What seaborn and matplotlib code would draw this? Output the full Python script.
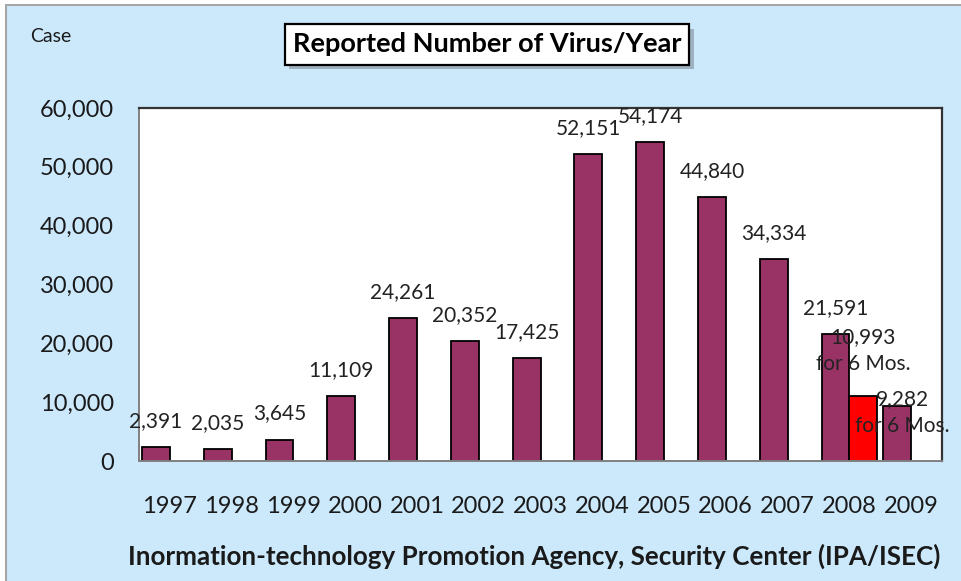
import matplotlib.pyplot as plt
import matplotlib.patheffects as pe
import numpy as np
import pandas as pd
import seaborn as sns
from matplotlib.patches import Rectangle
from matplotlib.transforms import Bbox, TransformedBbox
from matplotlib.ticker import FuncFormatter, MultipleLocator

# Reported virus cases per year (IPA/ISEC)
years = ['1997', '1998', '1999', '2000', '2001', '2002', '2003',
         '2004', '2005', '2006', '2007', '2008', '2009']
year_cases = [2391, 2035, 3645, 11109, 24261, 20352, 17425,
              52151, 54174, 44840, 34334, 21591, 9282]
half_years = ['2008']
half_cases = [10993]
partial_note = 'for 6 Mos.'

MAROON = '#993366'
RED = '#FF0000'
BG = '#CCE9FC'
FONT = 'Lato'


def build_frame():
    full = pd.DataFrame({'year': years, 'cases': year_cases, 'period': 'full'})
    half = pd.DataFrame({'year': half_years, 'cases': half_cases, 'period': 'half'})
    return pd.concat([full, half], ignore_index=True)


def plot_virus_chart(output_plot_path='out.png'):
    df = build_frame()

    sns.set_style('white')
    plt.rcParams['font.family'] = [FONT, 'DejaVu Sans']

    fig = plt.figure(figsize=(9.61, 5.81), dpi=100, facecolor='white')
    # chart area with a thin grey border (cropped on right and bottom)
    fig.patches.append(Rectangle((6 / 961, -0.05), 1.1, 1 - 5 / 581 + 0.05,
                                 transform=fig.transFigure, facecolor=BG,
                                 edgecolor='#A6A6A6', linewidth=1.5, zorder=-10))

    ax = fig.add_axes([139 / 961, 1 - 461 / 581, (942 - 139) / 961, (461 - 108) / 581])
    ax.set_facecolor('white')

    sns.barplot(data=df, x='year', y='cases', hue='period', order=years,
                hue_order=['full', 'half'], palette={'full': MAROON, 'half': RED},
                saturation=1, width=0.9, gap=0, edgecolor='black', linewidth=1.3,
                legend=False, ax=ax)

    ax.set_ylim(0, 60000)
    ax.set_xlim(-0.5, len(years) - 0.5)
    ax.yaxis.set_major_locator(MultipleLocator(10000))
    ax.yaxis.set_major_formatter(FuncFormatter(lambda v, p: f'{v:,.0f}'))
    ax.tick_params(axis='y', direction='out', length=6, width=1.2, color='#808080',
                   pad=12, labelsize=17, labelcolor='#1a1a1a')

    # ticks between categories, year labels in the middle
    ax.set_xticks(np.arange(len(years) + 1) - 0.5)
    ax.set_xticklabels([])
    ax.set_xticks(np.arange(len(years)), minor=True)
    ax.set_xticklabels(years, minor=True)
    ax.tick_params(axis='x', which='major', direction='out', length=6, width=1.2,
                   color='#808080')
    ax.tick_params(axis='x', which='minor', length=0, pad=25, labelsize=17,
                   labelcolor='#1a1a1a')
    ax.set_xlabel('')
    ax.set_ylabel('')

    for side in ['top', 'right']:
        ax.spines[side].set_color('#333333')
        ax.spines[side].set_linewidth(1.6)
    for side in ['left', 'bottom']:
        ax.spines[side].set_color('#808080')
        ax.spines[side].set_linewidth(1.4)

    # labels may spill sideways, but are cut at the top of the plot area
    label_clip = TransformedBbox(Bbox([[-0.2, -0.2], [1.2, 1.0]]), ax.transAxes)

    # data labels
    for container, period in zip(ax.containers, ['full', 'half']):
        sub = df[df['period'] == period].reset_index(drop=True)
        for bar, (_, row) in zip(container, sub.iterrows()):
            if np.isnan(bar.get_height()):
                continue
            x = bar.get_x() + bar.get_width() / 2
            text = f"{row['cases']:,}"
            dx, dy = 0, 26
            if period == 'half':
                text += '\n' + partial_note
                dy = 46
            elif row['year'] == '2009':
                text += '\n' + partial_note
                dx, dy = 5, -6
            t = ax.annotate(text, (x, bar.get_height()), xytext=(dx, dy),
                            textcoords='offset pixels', ha='center', va='center',
                            fontsize=15, color='#222222', linespacing=1.45,
                            annotation_clip=False)
            t.set_clip_box(label_clip)
            t.set_clip_on(True)

    # title box with shadow
    title = fig.text(487 / 961, 1 - 44.5 / 581, 'Reported Number of Virus/Year',
                     ha='center', va='center', fontsize=19.5, fontweight='bold',
                     color='black',
                     bbox=dict(boxstyle='square,pad=0.3', facecolor='white',
                               edgecolor='black', linewidth=1.6))
    title.get_bbox_patch().set_path_effects(
        [pe.SimplePatchShadow(offset=(3, -3), shadow_rgbFace='#7f8c99', alpha=0.6),
         pe.Normal()])

    fig.text(51 / 961, 1 - 37 / 581, 'Case', ha='center', va='center',
             fontsize=14, color='#1a1a1a')
    fig.text(534 / 961, 1 - 556 / 581,
             'Inormation-technology Promotion Agency, Security Center (IPA/ISEC)',
             ha='center', va='center', fontsize=18.7, fontweight='bold', color='#1a1a1a')

    if output_plot_path:
        plt.savefig(output_plot_path, dpi=100, facecolor=fig.get_facecolor())


plot_virus_chart()
